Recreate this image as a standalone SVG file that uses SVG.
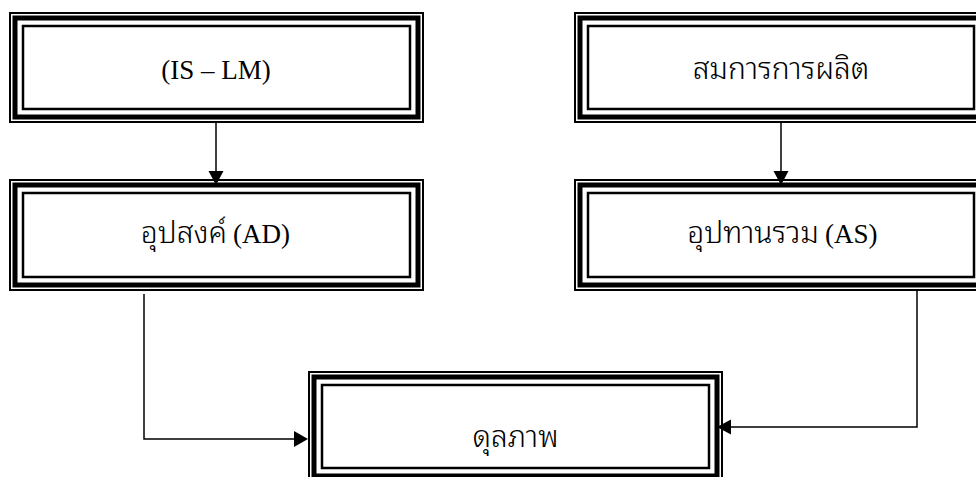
<svg xmlns="http://www.w3.org/2000/svg" width="976" height="477" viewBox="0 0 976 477">
  <style>
    .b1 { fill: none; stroke: #000; stroke-width: 2; }
    .b2 { fill: none; stroke: #000; stroke-width: 5; }
    .b3 { fill: none; stroke: #000; stroke-width: 2.5; }
    .t { font-family: "Liberation Serif", "Times New Roman", serif; font-size: 27px; fill: #000; }
    .th { font-family: "Noto Sans Thai Looped", "Noto Sans Thai", "Loma", "Tahoma", "Garuda", sans-serif; font-weight: 300; font-size: 30px; fill: #000; }
    .m { text-anchor: middle; }
    .e { text-anchor: end; }
    .s { text-anchor: start; }
    .c { fill: none; stroke: #000; stroke-width: 1.5; }
    .ah { fill: #000; }
  </style>
  <rect width="976" height="477" fill="#fff"/>
  <g id="node-islm">
    <rect class="b1" x="10" y="13" width="413" height="109"/>
    <rect class="b2" x="15" y="18" width="403" height="99"/>
    <rect class="b3" x="23" y="26" width="387" height="83"/>
    <text class="t m" x="216" y="79">(IS – LM)</text>
  </g>
  <g id="node-production">
    <rect class="b1" x="575" y="13" width="412" height="109"/>
    <rect class="b2" x="580" y="18" width="402" height="99"/>
    <rect class="b3" x="588" y="26" width="386" height="83"/>
    <text class="th m" x="781" y="79">สมการการผลิต</text>
  </g>
  <g id="node-ad">
    <rect class="b1" x="10" y="180" width="413" height="110"/>
    <rect class="b2" x="15" y="185" width="403" height="100"/>
    <rect class="b3" x="23" y="193" width="387" height="84"/>
    <text class="th e" x="227" y="243">อุปสงค์</text>
    <text class="t s" x="233" y="243">(AD)</text>
  </g>
  <g id="node-as">
    <rect class="b1" x="575" y="180" width="412" height="110"/>
    <rect class="b2" x="580" y="185" width="402" height="100"/>
    <rect class="b3" x="588" y="193" width="386" height="84"/>
    <text class="th e" x="819" y="243">อุปทานรวม</text>
    <text class="t s" x="825" y="243">(AS)</text>
  </g>
  <g id="node-equilibrium">
    <rect class="b1" x="309" y="372" width="413" height="109"/>
    <rect class="b2" x="314" y="377" width="403" height="99"/>
    <rect class="b3" x="322" y="385" width="387" height="83"/>
    <text class="th m" x="515.5" y="447">ดุลภาพ</text>
  </g>
  <g id="connectors">
    <line class="c" x1="216" y1="123" x2="216" y2="172"/>
    <polygon class="ah" points="208.5,171 223.5,171 216,185"/>
    <line class="c" x1="781" y1="123" x2="781" y2="172"/>
    <polygon class="ah" points="773.5,171 788.5,171 781,185"/>
    <polyline class="c" points="144,294 144,439 295,439"/>
    <polygon class="ah" points="294,431 294,447 308,439"/>
    <polyline class="c" points="917,289 917,427 730,427"/>
    <polygon class="ah" points="731,419.5 731,434.5 717,427"/>
  </g>
</svg>
